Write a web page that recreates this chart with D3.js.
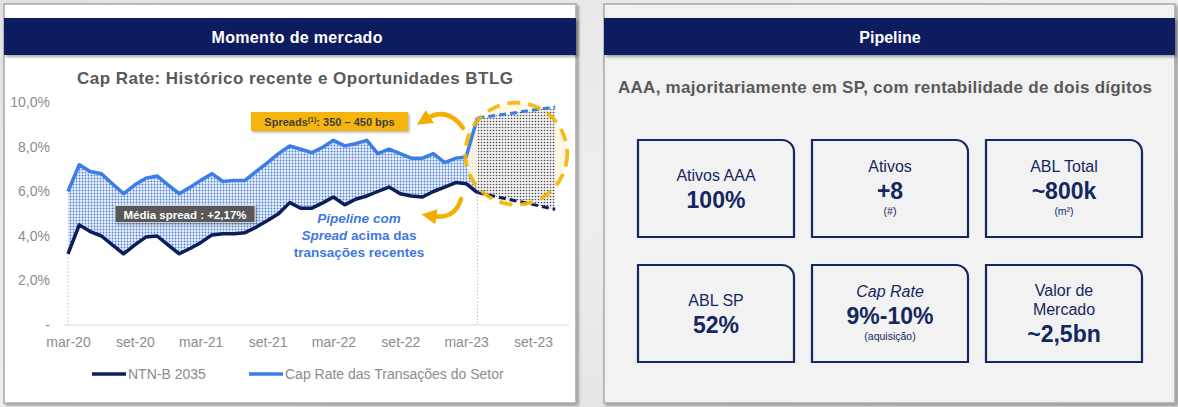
<!DOCTYPE html>
<html><head><meta charset="utf-8">
<script src="https://cdn.jsdelivr.net/npm/d3@7"></script>
<style>
html,body{margin:0;padding:0;}
body{width:1178px;height:407px;overflow:hidden;background:#e9e9e9;font-family:"Liberation Sans",Arial,sans-serif;}
</style></head><body>
<svg id="c" width="1178" height="407"></svg>
<script>
// ---------------- DATA ----------------
const months = ["2020-03","2020-04","2020-05","2020-06","2020-07","2020-08","2020-09","2020-10","2020-11","2020-12",
  "2021-01","2021-02","2021-03","2021-04","2021-05","2021-06","2021-07","2021-08","2021-09","2021-10","2021-11","2021-12",
  "2022-01","2022-02","2022-03","2022-04","2022-05","2022-06","2022-07","2022-08","2022-09","2022-10","2022-11","2022-12",
  "2023-01","2023-02","2023-03","2023-04"];
const ntnb = [3.2,4.5,4.2,4.0,3.6,3.2,3.6,3.95,4.0,3.6,
  3.2,3.45,3.7,4.05,4.1,4.1,4.15,4.4,4.7,5.0,5.5,5.25,
  5.25,5.5,5.75,5.4,5.65,5.8,6.0,6.2,5.9,5.8,5.75,6.0,
  6.2,6.4,6.35,5.95];
const capRate = [6.0,7.2,6.9,6.8,6.35,5.9,6.3,6.6,6.7,6.3,
  5.9,6.2,6.5,6.8,6.45,6.5,6.5,6.9,7.3,7.7,8.05,7.9,
  7.75,8.0,8.3,8.05,8.15,8.3,7.7,7.9,7.7,7.5,7.5,7.7,
  7.3,7.5,7.55,9.3];
const forecastMonths = ["2023-04","2023-11"];
const forecastCapRate = [9.3, 9.8];
const forecastNtnb = [5.95, 5.2];
const xTickMonths = ["2020-03","2020-09","2021-03","2021-09","2022-03","2022-09","2023-03","2023-09"];
const xTickLabels = ["mar-20","set-20","mar-21","set-21","mar-22","set-22","mar-23","set-23"];
const yTicks = [0,2,4,6,8,10];
const yTickLabels = ["-","2,0%","4,0%","6,0%","8,0%","10,0%"];
const seriesNames = ["NTN-B 2035","Cap Rate das Transações do Setor"];
const kpiTitles = [["Ativos AAA"],["Ativos"],["ABL Total"],["ABL SP"],["Cap Rate"],["Valor de","Mercado"]];
const kpiValues = ["100%","+8","~800k","52%","9%-10%","~2,5bn"];
const kpiNotes = ["","(#)","(m²)","","(aquisição)",""];
const kpiTitleItalic = [false,false,false,false,true,false];

// ---------------- SETUP ----------------
const NAVY = "#0b1f5e", BLUE = "#3d7de6", DARK = "#0d1d57", GOLD = "#f4b400";
const svg = d3.select("#c");
const defs = svg.append("defs");
const fsh = defs.append("filter").attr("id","sh").attr("x","-5%").attr("y","-5%").attr("width","112%").attr("height","115%");
fsh.append("feDropShadow").attr("dx",2).attr("dy",2).attr("stdDeviation",1.6).attr("flood-color","#000").attr("flood-opacity",0.35);
const fsh2 = defs.append("filter").attr("id","sh2").attr("x","-10%").attr("y","-20%").attr("width","125%").attr("height","160%");
fsh2.append("feDropShadow").attr("dx",1.5).attr("dy",1.5).attr("stdDeviation",1).attr("flood-color","#000").attr("flood-opacity",0.3);

const bg = defs.append("linearGradient").attr("id","bg").attr("x1",0).attr("x2",1).attr("y1",0).attr("y2",1);
bg.append("stop").attr("offset","0%").attr("stop-color","#e2e2e2");
bg.append("stop").attr("offset","50%").attr("stop-color","#efefef");
bg.append("stop").attr("offset","100%").attr("stop-color","#dcdcdc");

const p1 = defs.append("pattern").attr("id","dotsBlue").attr("patternUnits","userSpaceOnUse").attr("width",3).attr("height",3);
p1.append("rect").attr("width",3).attr("height",3).attr("fill","#ebf1fb");
p1.append("circle").attr("cx",1.5).attr("cy",1.5).attr("r",0.92).attr("fill","#4b7ed9");
const p2 = defs.append("pattern").attr("id","dotsDark").attr("patternUnits","userSpaceOnUse").attr("width",3).attr("height",3);
p2.append("rect").attr("width",3).attr("height",3).attr("fill","#f3f1ea");
p2.append("circle").attr("cx",1.5).attr("cy",1.5).attr("r",0.82).attr("fill","#434b6c");

const am = defs.append("marker").attr("id","arrowHead").attr("viewBox","0 0 10 10").attr("refX",3).attr("refY",5)
  .attr("markerWidth",3.4).attr("markerHeight",3.4).attr("orient","auto-start-reverse").attr("markerUnits","strokeWidth");
am.append("path").attr("d","M0,0 L10,5 L0,10 z").attr("fill","#f2ad00");

svg.append("rect").attr("width",1178).attr("height",407).attr("fill","url(#bg)");

// ---------------- PANELS ----------------
svg.append("rect").attr("x",4).attr("y",4).attr("width",572).attr("height",399).attr("fill","#fff")
  .attr("stroke","#a8a8a8").attr("stroke-width",1.5).attr("filter","url(#sh)");
svg.append("rect").attr("x",604).attr("y",4).attr("width",571).attr("height",399).attr("fill","#f2f2f2")
  .attr("stroke","#a8a8a8").attr("stroke-width",1.5).attr("filter","url(#sh)");
svg.append("rect").attr("x",4).attr("y",18).attr("width",572).attr("height",37).attr("fill",NAVY).attr("filter","url(#sh)");
svg.append("rect").attr("x",604).attr("y",18).attr("width",571).attr("height",37).attr("fill",NAVY).attr("filter","url(#sh)");
svg.append("text").attr("x",297).attr("y",43).attr("text-anchor","middle").attr("fill","#fff")
  .attr("font-weight","bold").attr("font-size","16px").attr("textLength",171).attr("lengthAdjust","spacing").text("Momento de mercado");
svg.append("text").attr("x",890).attr("y",43).attr("text-anchor","middle").attr("fill","#fff")
  .attr("font-weight","bold").attr("font-size","16px").text("Pipeline");

// ---------------- CHART ----------------
const parse = d3.timeParse("%Y-%m");
const x = d3.scaleTime().domain([parse("2020-03"), parse("2023-09")]).range([68, 533]);
const y = d3.scaleLinear().domain([0, 10]).range([325, 102.5]);

svg.append("text").attr("x",295).attr("y",84).attr("text-anchor","middle").attr("fill","#595959")
  .attr("font-weight","bold").attr("font-size","17px").attr("textLength",436).attr("lengthAdjust","spacing")
  .text("Cap Rate: Histórico recente e Oportunidades BTLG");

const hist = months.map((m,i)=>({d:parse(m), lo:ntnb[i], hi:capRate[i]}));
const fc = forecastMonths.map((m,i)=>({d:parse(m), lo:forecastNtnb[i], hi:forecastCapRate[i]}));

// baseline
svg.append("line").attr("x1",x.range()[0]-4).attr("x2",x(parse("2023-11"))+13).attr("y1",y(0)).attr("y2",y(0))
  .attr("stroke","#d9d9d9").attr("stroke-width",1);
// drop lines
[[hist[0].d, hist[0].lo],[fc[0].d, fc[0].lo]].forEach(([d,v])=>{
  svg.append("line").attr("x1",x(d)).attr("x2",x(d)).attr("y1",y(v)).attr("y2",y(0))
    .attr("stroke","#bdbdbd").attr("stroke-width",1).attr("stroke-dasharray","1.5 2");
});

const area = d3.area().x(d=>x(d.d)).y0(d=>y(d.lo)).y1(d=>y(d.hi));
svg.append("path").datum(hist).attr("d",area).attr("fill","url(#dotsBlue)");

// circle highlight (computed from forecast range)
const cx = (x(fc[0].d)+x(fc[1].d))/2;
const cy = y((d3.max(forecastCapRate)+d3.min(forecastNtnb)+0.4)/2);
svg.append("circle").attr("cx",cx).attr("cy",cy).attr("r",51).attr("fill","#fdf6e0").attr("opacity",0.9);
svg.append("path").datum(fc).attr("d",area).attr("fill","url(#dotsDark)");

const lineHi = d3.line().x(d=>x(d.d)).y(d=>y(d.hi));
const lineLo = d3.line().x(d=>x(d.d)).y(d=>y(d.lo));
svg.append("path").datum(fc).attr("d",lineHi).attr("fill","none").attr("stroke",BLUE).attr("stroke-width",3).attr("stroke-dasharray","7 4");
svg.append("path").datum(fc).attr("d",lineLo).attr("fill","none").attr("stroke",DARK).attr("stroke-width",3).attr("stroke-dasharray","7 4");
svg.append("path").datum(hist).attr("d",lineHi).attr("fill","none").attr("stroke",BLUE).attr("stroke-width",3.5).attr("stroke-linejoin","round");
svg.append("path").datum(hist).attr("d",lineLo).attr("fill","none").attr("stroke",DARK).attr("stroke-width",3.5).attr("stroke-linejoin","round");
svg.append("circle").attr("cx",cx).attr("cy",cy).attr("r",51).attr("fill","none").attr("stroke",GOLD)
  .attr("stroke-width",3.8).attr("stroke-dasharray","13 8").attr("opacity",0.9);

// axes
const yAxis = d3.axisLeft(y).tickValues(yTicks).tickSize(0).tickPadding(0).tickFormat((d,i)=>yTickLabels[i]);
const gy = svg.append("g").attr("transform","translate(50,0)").call(yAxis);
gy.select(".domain").remove();
gy.selectAll("text").attr("fill","#8c8c8c").attr("font-size","14px").attr("font-family","Liberation Sans, Arial, sans-serif");

const xAxis = d3.axisBottom(x).tickValues(xTickMonths.map(parse)).tickSize(0).tickPadding(12).tickFormat((d,i)=>xTickLabels[i]);
const gx = svg.append("g").attr("transform",`translate(0,${y(0)})`).call(xAxis);
gx.select(".domain").remove();
gx.selectAll("text").attr("fill","#8c8c8c").attr("font-size","14px").attr("font-family","Liberation Sans, Arial, sans-serif");

// legend
const lg = svg.append("g").attr("font-size","14px").attr("fill","#8c8c8c");
[[92,DARK,seriesNames[0]],[249,BLUE,seriesNames[1]]].forEach(([lx,c,t])=>{
  lg.append("line").attr("x1",lx).attr("x2",lx+34).attr("y1",374).attr("y2",374).attr("stroke",c).attr("stroke-width",3.5);
  lg.append("text").attr("x",lx+36).attr("y",379).text(t);
});

// annotations
const sp = svg.append("g");
sp.append("rect").attr("x",251).attr("y",112).attr("width",157).attr("height",19).attr("fill","#f5b50c").attr("filter","url(#sh2)");
const spt = sp.append("text").attr("x",329.5).attr("y",126).attr("text-anchor","middle").attr("fill","#3f3f3f")
  .attr("font-weight","bold").attr("font-size","11px");
spt.append("tspan").text("Spreads");
spt.append("tspan").attr("font-size","7px").attr("dy",-4).text("(1)");
spt.append("tspan").attr("dy",4).text(": 350 – 450 bps");

const ms = svg.append("g");
ms.append("rect").attr("x",115).attr("y",205.5).attr("width",140).attr("height",17).attr("fill","#595959")
  .attr("stroke","#d0d0d0").attr("stroke-width",1).attr("filter","url(#sh2)");
ms.append("text").attr("x",185).attr("y",218.5).attr("text-anchor","middle").attr("fill","#fff")
  .attr("font-weight","bold").attr("font-size","11.5px").text("Média spread : +2,17%");

// arrows
svg.append("path").attr("d","M463,128 Q447,106 426,119").attr("fill","none").attr("stroke","#f3b000")
  .attr("stroke-width",4.5).attr("stroke-linecap","round").attr("marker-end","url(#arrowHead)");
svg.append("path").attr("d","M461,199 Q455,220 432,216").attr("fill","none").attr("stroke","#f3b000")
  .attr("stroke-width",4.5).attr("stroke-linecap","round").attr("marker-end","url(#arrowHead)");

const pt = svg.append("g").attr("font-weight","bold").attr("font-size","13.5px").attr("fill","#3f78e0").attr("text-anchor","middle");
pt.append("text").attr("x",359).attr("y",223).attr("font-style","italic").text("Pipeline com");
const t2 = pt.append("text").attr("x",359).attr("y",240);
t2.append("tspan").attr("font-style","italic").text("Spread");
t2.append("tspan").text(" acima das");
pt.append("text").attr("x",359).attr("y",257).text("transações recentes");

// ---------------- RIGHT PANEL ----------------
svg.append("text").attr("x",885).attr("y",93).attr("text-anchor","middle").attr("fill","#595959")
  .attr("font-weight","bold").attr("font-size","17px").attr("textLength",534).attr("lengthAdjust","spacing")
  .text("AAA, majoritariamente em SP, com rentabilidade de dois dígitos");

const colX = [638, 812, 986], rowY = [140, 265], bw = 156, bh = 97, r = 12;
kpiValues.forEach((v,i)=>{
  const bx = colX[i%3], by = rowY[Math.floor(i/3)];
  const g = svg.append("g");
  g.append("path").attr("d",`M${bx},${by} H${bx+bw-r} A${r},${r} 0 0 1 ${bx+bw},${by+r} V${by+bh} H${bx} Z`)
    .attr("fill","none").attr("stroke","#15275f").attr("stroke-width",2.2);
  const lines = [];
  kpiTitles[i].forEach(t=>lines.push({t, size:16, bold:false, italic:kpiTitleItalic[i], step:19}));
  lines.push({t:v, size:23, bold:true, italic:false, step:27});
  if (kpiNotes[i]) lines.push({t:kpiNotes[i], size:10.5, bold:false, italic:false, step:16});
  let base = 0; const bases = [];
  lines.forEach((l,k)=>{ if(k>0) base += l.step; bases.push(base); });
  const top = -lines[0].size*0.72, bottom = base + (lines[lines.length-1].size<12 ? 1 : 0);
  const off = by + bh/2 - (top+bottom)/2;
  lines.forEach((l,k)=>{
    g.append("text").attr("x",bx+bw/2).attr("y",off+bases[k]).attr("text-anchor","middle")
      .attr("fill","#15275f").attr("font-size",l.size+"px").attr("font-weight",l.bold?"bold":"normal")
      .attr("font-style",l.italic?"italic":"normal").text(l.t);
  });
});
</script>
</body></html>
